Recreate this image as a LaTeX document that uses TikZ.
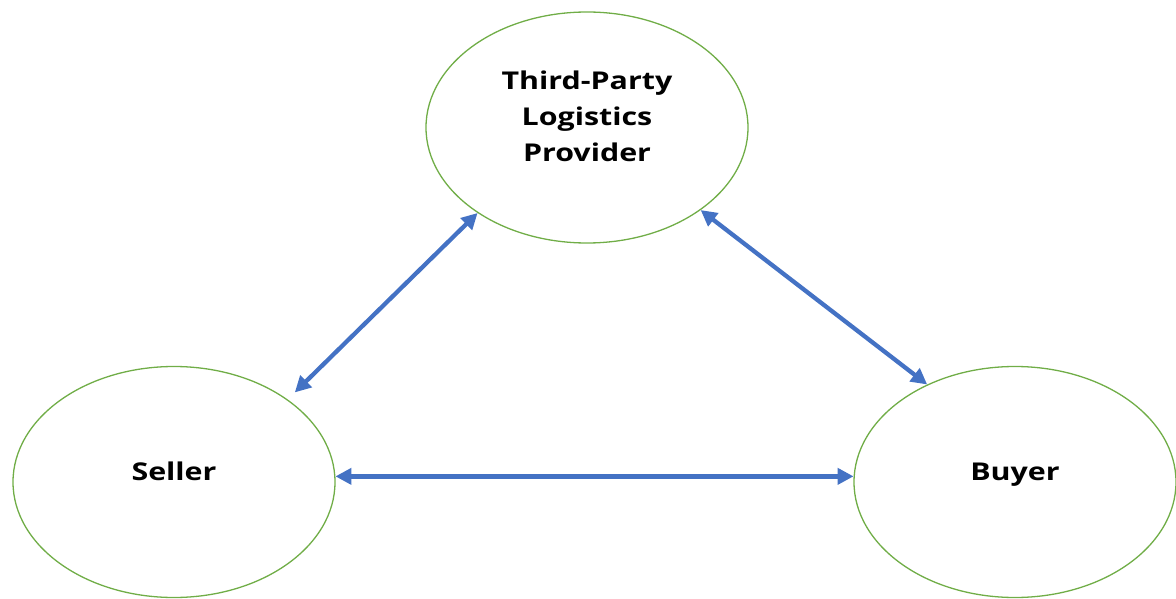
\documentclass[tikz,border=0pt]{standalone}
\usepackage{fontspec}
\setmainfont{Open Sans}[FakeStretch=1.24]
\usepackage{tikz}
\usetikzlibrary{arrows.meta,shapes.geometric}
\definecolor{ringgreen}{HTML}{70AD47}
\definecolor{linkblue}{HTML}{4472C4}
\newcommand{\partytext}[1]{\raisebox{2.5pt}[0pt][0pt]{\begin{tabular}{@{}c@{}}#1\end{tabular}}}

\begin{document}
\begin{tikzpicture}[x=1pt, y=-1pt,
    party/.style={ellipse, draw=ringgreen, line width=1.3pt, inner sep=0pt,
      minimum width=322pt, minimum height=231pt,
      font=\fontsize{24.5}{36}\selectfont\bfseries},
    link/.style={draw=linkblue, line width=4.3pt,
      {Triangle[length=16pt,width=16pt]}-{Triangle[length=16pt,width=16pt]}}]
  \useasboundingbox (0,0) rectangle (1176,599);
  \node[party] (tpl) at (587,127.5) {\partytext{Third-Party\\Logistics\\Provider}};
  \node[party] (seller) at (174,482) {\partytext{Seller}};
  \node[party] (buyer) at (1015,482) {\partytext{Buyer}};
  \draw[link, shorten <=10pt] (seller.36.3) -- (tpl.218.9);
  \draw[link] (tpl.324.4) -- (buyer.132.3);
  \draw[link] (seller.2) -- (buyer.178);
\end{tikzpicture}
\end{document}
